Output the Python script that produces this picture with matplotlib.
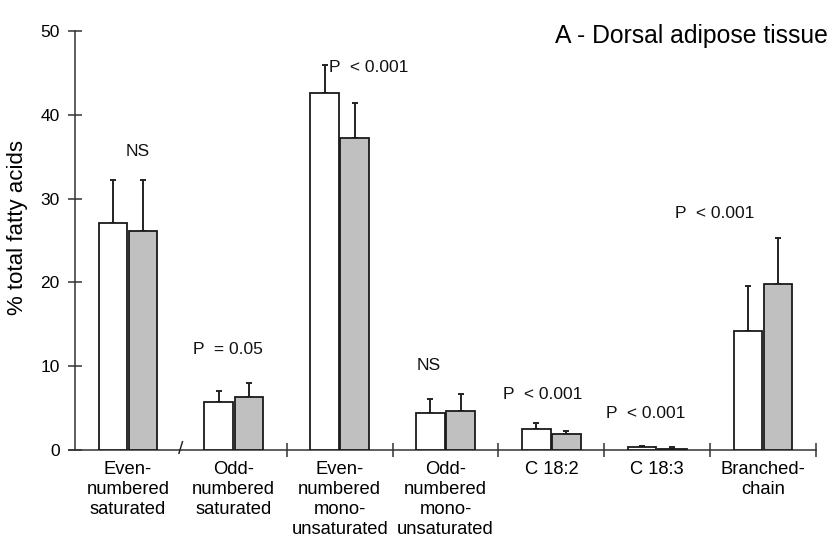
#Bar chart of fatty acid composition in dorsal adipose tissue

import numpy as np
import matplotlib.pyplot as plt

plt.rcParams['font.family'] = ['Liberation Sans', 'DejaVu Sans']

# data (% total fatty acids)
categories = ['Even-\nnumbered\nsaturated', 'Odd-\nnumbered\nsaturated',
              'Even-\nnumbered\nmono-\nunsaturated', 'Odd-\nnumbered\nmono-\nunsaturated',
              'C 18:2', 'C 18:3', 'Branched-\nchain']
white_vals = [27.1, 5.7, 42.6, 4.4, 2.5, 0.32, 14.2]
white_err = [5.1, 1.4, 3.3, 1.7, 0.7, 0.1, 5.4]
gray_vals = [26.1, 6.3, 37.2, 4.7, 1.9, 0.1, 19.8]
gray_err = [6.1, 1.7, 4.2, 2.0, 0.4, 0.26, 5.5]
p_labels = ['NS', 'P  = 0.05', 'P  < 0.001', 'NS', 'P  < 0.001', 'P  < 0.001', 'P  < 0.001']

# where each significance label sits (data coords, left edge)
p_pos = [(-0.02, 35.6), (0.615, 12.0), (1.90, 45.7), (2.73, 10.1),
         (3.54, 6.6), (4.52, 4.4), (5.17, 28.2)]

fig = plt.figure(figsize=(8.32, 5.43), dpi=100)
ax = fig.add_axes([75/832, 93/543, 741/832, 419/543])

x = np.arange(len(categories))
w = 0.27
off = 0.142
edge = '#1a1a1a'

ax.bar(x - off, white_vals, w, color='white', edgecolor=edge, linewidth=1.3, zorder=3)
ax.bar(x + off, gray_vals, w, color='#c0c0c0', edgecolor=edge, linewidth=1.3, zorder=3)

# only the upper half of the error bars is visible
ax.errorbar(x - off, white_vals, yerr=[np.zeros(len(x)), white_err], fmt='none',
            ecolor='#222222', elinewidth=1.4, capsize=2.5, capthick=1.4, zorder=2)
ax.errorbar(x + off, gray_vals, yerr=[np.zeros(len(x)), gray_err], fmt='none',
            ecolor='#222222', elinewidth=1.4, capsize=2.5, capthick=1.4, zorder=2)

for lab, (px, py) in zip(p_labels, p_pos):
	ax.text(px, py, lab, fontsize=12.5, ha='left', va='center', color='#111111')

ax.set_xlim(-0.5, 6.5)
ax.set_ylim(0, 50)

for s in ['top', 'right']:
	ax.spines[s].set_visible(False)
ax.spines['left'].set_color('#333333')
ax.spines['bottom'].set_color('#333333')
ax.spines['left'].set_linewidth(1.1)
ax.spines['bottom'].set_linewidth(1.1)
ax.spines['bottom'].set_bounds(-0.56, 6.5)

ax.set_yticks([0, 10, 20, 30, 40, 50])
ax.tick_params(axis='y', direction='inout', length=10, width=1.1, color='#333333',
               labelsize=12.5, pad=6)

# boundary ticks (major) and centred labels (minor)
ax.set_xticks([1.5, 2.5, 3.5, 4.5, 5.5, 6.5])
ax.set_xticklabels([])
ax.tick_params(axis='x', which='major', direction='inout', length=10, width=1.1, color='#333333')
ax.set_xticks(x, minor=True)
ax.set_xticklabels(categories, minor=True, fontsize=13.2, linespacing=1.24)
ax.tick_params(axis='x', which='minor', length=0, pad=8)

# axis break mark
ax.text(0.5, 0, '/', fontsize=14, ha='center', va='center', color='#222222')

ax.set_ylabel('% total fatty acids', fontsize=16)
ax.yaxis.set_label_coords(-0.063, 0.53)

fig.text(828/832, 1 - 36/543, 'A - Dorsal adipose tissue', fontsize=17.8,
         ha='right', va='center')

plt.savefig('out.png', dpi=100)
